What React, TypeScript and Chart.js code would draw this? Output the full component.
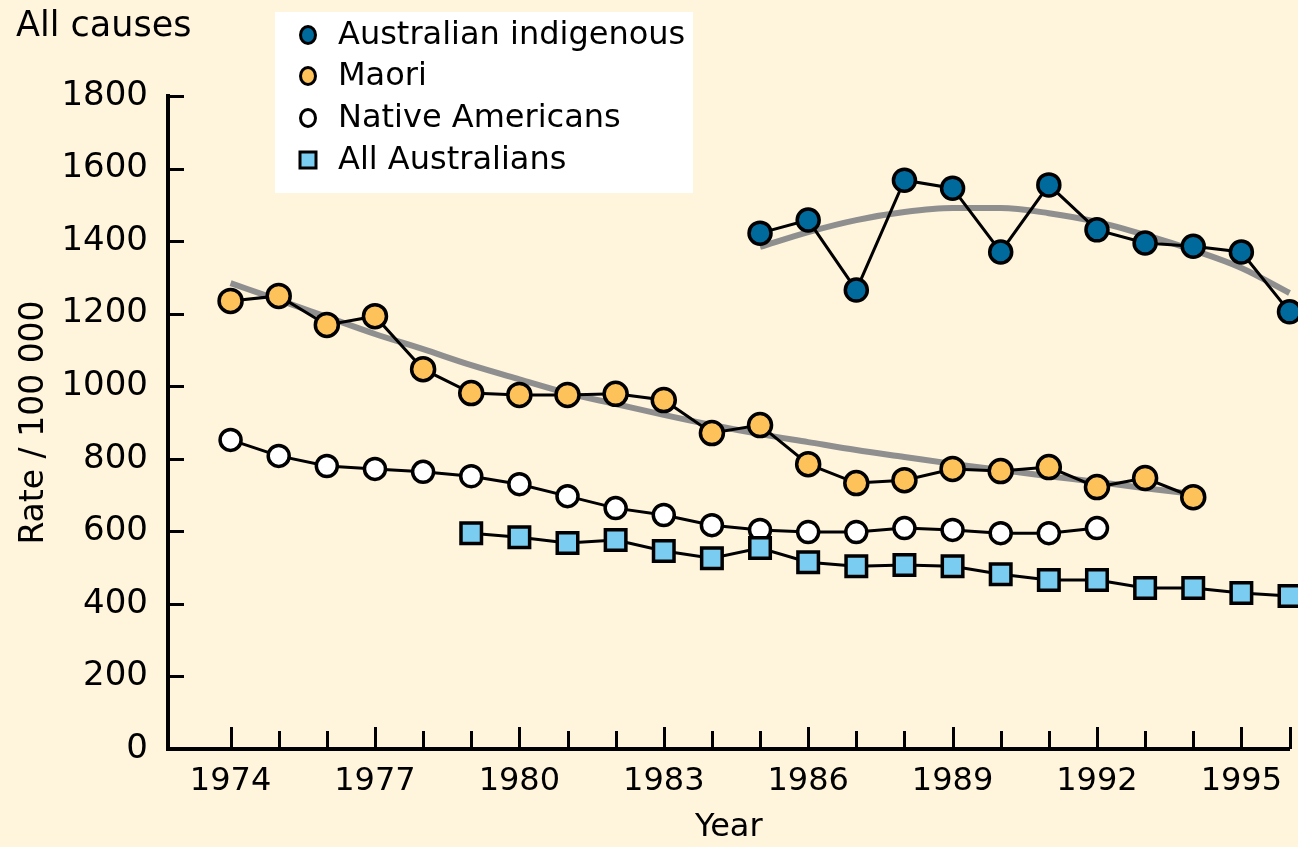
import React, { useEffect, useRef } from "react";
import { Chart, registerables } from "chart.js";

Chart.register(...registerables);

// ---- Data ----
const indigenousYears = [1985, 1986, 1987, 1988, 1989, 1990, 1991, 1992, 1993, 1994, 1995, 1996];
const indigenousRates = [1422, 1458, 1265, 1568, 1546, 1370, 1555, 1431, 1395, 1386, 1370, 1205];
const indigenousTrend = [1384, 1425, 1458, 1480, 1491, 1491, 1477, 1453, 1417, 1375, 1326, 1257];

const maoriYears = [1974, 1975, 1976, 1977, 1978, 1979, 1980, 1981, 1982, 1983, 1984, 1985, 1986, 1987, 1988, 1989, 1990, 1991, 1992, 1993, 1994];
const maoriRates = [1235, 1249, 1169, 1193, 1047, 981, 976, 976, 979, 962, 871, 893, 785, 733, 741, 772, 766, 777, 722, 747, 694];
const maoriTrend = [1284, 1238, 1191, 1144, 1102, 1058, 1019, 981, 951, 921, 893, 868, 846, 824, 805, 786, 769, 752, 736, 719, 703];

const nativeYears = [1974, 1975, 1976, 1977, 1978, 1979, 1980, 1981, 1982, 1983, 1984, 1985, 1986, 1987, 1988, 1989, 1990, 1991, 1992];
const nativeRates = [852, 808, 780, 772, 764, 752, 730, 697, 664, 645, 617, 604, 598, 598, 609, 604, 595, 595, 609];

const allAusYears = [1979, 1980, 1981, 1982, 1983, 1984, 1985, 1986, 1987, 1988, 1989, 1990, 1991, 1992, 1993, 1994, 1995, 1996];
const allAusRates = [595, 584, 568, 576, 546, 526, 554, 515, 504, 507, 504, 482, 466, 466, 444, 444, 430, 422];

const xTickYears = [1974, 1975, 1976, 1977, 1978, 1979, 1980, 1981, 1982, 1983, 1984, 1985, 1986, 1987, 1988, 1989, 1990, 1991, 1992, 1993, 1994, 1995, 1996];
const labeledYears = [1974, 1977, 1980, 1983, 1986, 1989, 1992, 1995];
const longTickYears = [1974, 1977, 1980, 1983, 1986, 1989, 1992, 1995, 1996];
const yTickValues = [0, 200, 400, 600, 800, 1000, 1200, 1400, 1600, 1800];

const seriesNames = ["Australian indigenous", "Maori", "Native Americans", "All Australians"];
const chartTitle = "All causes";
const yTitle = "Rate / 100 000";
const xTitle = "Year";

const BG = "#fff4dc";
const FONT = "DejaVu Sans";
const COL_IND = "#006a9c";
const COL_MAORI = "#fdc35a";
const COL_NATIVE = "#ffffff";
const COL_ALLAUS = "#7acdf0";
const COL_TREND = "#8f8f8f";

const pts = (xs: number[], ys: number[]) => xs.map((x, i) => ({ x, y: ys[i] }));

const bgPlugin = {
  id: "bgFill",
  beforeDraw(chart: any) {
    const { ctx, width, height } = chart;
    ctx.save();
    ctx.fillStyle = BG;
    ctx.fillRect(0, 0, width, height);
    ctx.restore();
  },
};

const tickPlugin = {
  id: "insideTicks",
  beforeDatasetsDraw(chart: any) {
    const { ctx, chartArea } = chart;
    const xs = chart.scales.x;
    const ys = chart.scales.y;
    ctx.save();
    ctx.strokeStyle = "#000";
    ctx.lineWidth = 3;
    ctx.lineCap = "butt";
    yTickValues.forEach((v) => {
      const py = Math.round(ys.getPixelForValue(v)) + 0.5;
      ctx.beginPath();
      ctx.moveTo(chartArea.left, py);
      ctx.lineTo(chartArea.left + 16, py);
      ctx.stroke();
    });
    xTickYears.forEach((v) => {
      const px = Math.round(xs.getPixelForValue(v)) + 0.5;
      const len = longTickYears.includes(v) ? 22 : 18;
      ctx.beginPath();
      ctx.moveTo(px, chartArea.bottom);
      ctx.lineTo(px, chartArea.bottom - len);
      ctx.stroke();
    });
    ctx.restore();
  },
};

const legendPlugin = {
  id: "customLegend",
  afterDraw(chart: any) {
    const { ctx } = chart;
    ctx.save();
    ctx.fillStyle = "#ffffff";
    ctx.fillRect(275, 12, 418, 181);
    const rows = [35, 76, 118, 160];
    const fills = [COL_IND, COL_MAORI, COL_NATIVE, COL_ALLAUS];
    rows.forEach((ry, i) => {
      ctx.fillStyle = fills[i];
      ctx.strokeStyle = "#000";
      ctx.lineWidth = 3;
      ctx.beginPath();
      if (i === 3) {
        ctx.rect(300, ry - 8, 16, 16);
      } else {
        ctx.ellipse(308, ry, 7.5, 8.5, 0, 0, Math.PI * 2);
      }
      ctx.fill();
      ctx.stroke();
      ctx.fillStyle = "#000";
      ctx.font = `32px "${FONT}"`;
      ctx.textBaseline = "middle";
      ctx.textAlign = "left";
      ctx.fillText(seriesNames[i], 338, ry + 1);
    });
    ctx.font = `35px "${FONT}"`;
    ctx.textBaseline = "middle";
    ctx.fillText(chartTitle, 16, 27);
    ctx.restore();
  },
};

export default function App() {
  const canvasRef = useRef<HTMLCanvasElement | null>(null);

  useEffect(() => {
    if (!canvasRef.current) return;
    const lineBase = {
      borderColor: "#000",
      borderWidth: 3,
      pointBorderColor: "#000",
      pointBorderWidth: 3.5,
      pointRadius: 11,
      tension: 0,
      clip: false as any,
      order: 1,
    };
    const trendBase = {
      borderColor: COL_TREND,
      borderWidth: 6,
      pointRadius: 0,
      tension: 0.4,
      cubicInterpolationMode: "monotone" as const,
      clip: false as any,
      order: 5,
    };
    const chart = new Chart(canvasRef.current, {
      type: "line",
      data: {
        datasets: [
          { ...trendBase, label: "Australian indigenous trend", data: pts(indigenousYears, indigenousTrend) },
          { ...trendBase, label: "Maori trend", data: pts(maoriYears, maoriTrend) },
          { ...lineBase, label: seriesNames[3], data: pts(allAusYears, allAusRates), pointStyle: "rect", pointRadius: 14.5, pointBackgroundColor: COL_ALLAUS },
          { ...lineBase, label: seriesNames[2], data: pts(nativeYears, nativeRates), pointStyle: "circle", pointRadius: 10.5, pointBackgroundColor: COL_NATIVE },
          { ...lineBase, label: seriesNames[1], data: pts(maoriYears, maoriRates), pointStyle: "circle", pointRadius: 11.5, pointBackgroundColor: COL_MAORI },
          { ...lineBase, label: seriesNames[0], data: pts(indigenousYears, indigenousRates), pointStyle: "circle", pointRadius: 11, pointBackgroundColor: COL_IND },
        ],
      },
      options: {
        animation: false,
        responsive: false,
        devicePixelRatio: 1,
        layout: { autoPadding: false, padding: { top: 96, left: 0, right: 8.5, bottom: 0 } },
        plugins: {
          legend: { display: false },
          tooltip: { enabled: false },
          title: { display: false },
        },
        scales: {
          x: {
            type: "linear",
            min: 1972.7,
            max: 1996,
            afterBuildTicks: (s: any) => {
              s.ticks = xTickYears.map((v) => ({ value: v }));
            },
            afterFit: (s: any) => {
              s.height = 98;
              s.paddingRight = 0;
              s.paddingLeft = 0;
            },
            grid: { display: false, drawTicks: false },
            border: { display: true, color: "#000", width: 4 },
            ticks: {
              autoSkip: false,
              maxRotation: 0,
              minRotation: 0,
              padding: 13,
              color: "#000",
              font: { family: FONT, size: 32 },
              callback: (v: any) => (labeledYears.includes(Number(v)) ? String(v) : ""),
            },
            title: {
              display: true,
              text: xTitle,
              color: "#000",
              font: { family: FONT, size: 32 },
              padding: { top: 0, bottom: 0 },
            },
          },
          y: {
            type: "linear",
            min: 0,
            max: 1800,
            afterBuildTicks: (s: any) => {
              s.ticks = yTickValues.map((v) => ({ value: v }));
            },
            afterFit: (s: any) => {
              s.width = 168;
            },
            grid: { display: false, drawTicks: false },
            border: { display: true, color: "#000", width: 4 },
            ticks: {
              padding: 20,
              color: "#000",
              font: { family: FONT, size: 34 },
              callback: (v: any) => String(v),
            },
            title: {
              display: true,
              text: yTitle,
              color: "#000",
              font: { family: FONT, size: 33 },
              padding: { top: 15, bottom: 0 },
            },
          },
        },
      },
      plugins: [bgPlugin, tickPlugin, legendPlugin],
    });
    return () => chart.destroy();
  }, []);

  return (
    <div style={{ position: "absolute", left: 0, top: 0, width: 1298, height: 847, background: BG }}>
      <canvas ref={canvasRef} width={1298} height={847} style={{ display: "block" }} />
    </div>
  );
}
